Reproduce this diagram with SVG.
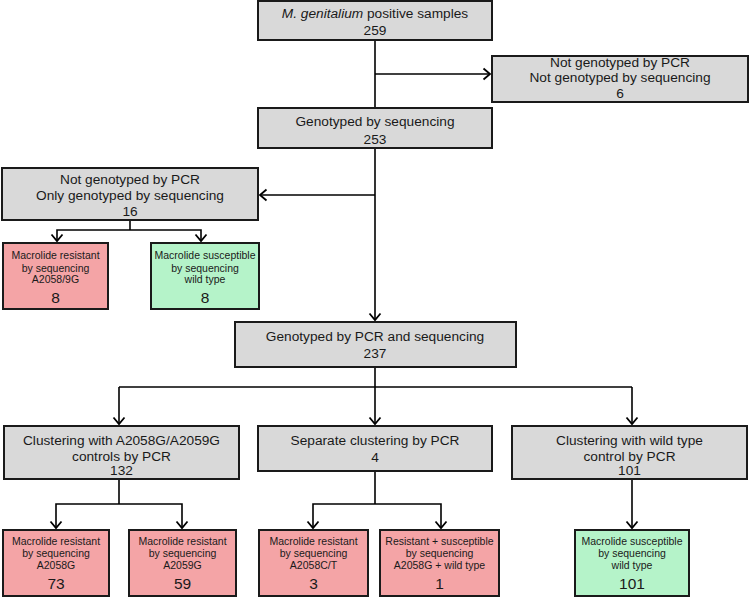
<svg xmlns="http://www.w3.org/2000/svg" width="750" height="597" viewBox="0 0 750 597">
<defs>
<marker id="arr" markerUnits="userSpaceOnUse" markerWidth="12" markerHeight="14" viewBox="-8 -7 10 14" refX="0" refY="0" orient="auto">
<path d="M-6.5,-5.5 L0,0 L-6.5,5.5" fill="none" stroke="#000" stroke-width="1.8"/>
</marker>
</defs>
<style>
.box{stroke:#1a1a1a;stroke-width:2}
.gray{fill:#d9d9d9}
.red{fill:#f4a4a6}
.green{fill:#b5f3c9}
.t{font-family:"Liberation Sans",Arial,sans-serif;font-size:13.7px;fill:#1a1a1a;text-anchor:middle}
.s{font-family:"Liberation Sans",Arial,sans-serif;font-size:10.5px;fill:#1a1a1a;text-anchor:middle}
.n{font-family:"Liberation Sans",Arial,sans-serif;font-size:15.5px;fill:#1a1a1a;text-anchor:middle}
.c{fill:none;stroke:#000;stroke-width:1.6}
</style>
<rect width="750" height="597" fill="#fff"/>
<g id="connectors">
<path class="c" d="M375,40 V108"/>
<path class="c" d="M375,74 H490" marker-end="url(#arr)"/>
<path class="c" d="M375,148 V320" marker-end="url(#arr)"/>
<path class="c" d="M375,195 H260" marker-end="url(#arr)"/>
<path class="c" d="M130,220 V230"/>
<path class="c" d="M130,230 H57 V241" marker-end="url(#arr)"/>
<path class="c" d="M130,230 H201 V241" marker-end="url(#arr)"/>
<path class="c" d="M375,367 V424" marker-end="url(#arr)"/>
<path class="c" d="M119,387 H632"/>
<path class="c" d="M119,387 V424" marker-end="url(#arr)"/>
<path class="c" d="M632,387 V424" marker-end="url(#arr)"/>
<path class="c" d="M119,479 V504"/>
<path class="c" d="M119,504 H56 V528" marker-end="url(#arr)"/>
<path class="c" d="M119,504 H182 V528" marker-end="url(#arr)"/>
<path class="c" d="M375,471 V504"/>
<path class="c" d="M375,504 H313 V528" marker-end="url(#arr)"/>
<path class="c" d="M375,504 H441 V528" marker-end="url(#arr)"/>
<path class="c" d="M632,479 V528" marker-end="url(#arr)"/>
</g>
<g id="n-positive">
<rect class="box gray" x="258" y="1" width="234" height="39"/>
<text class="t" x="375" y="18"><tspan font-style="italic">M. genitalium</tspan> positive samples</text>
<text class="t" x="375" y="35">259</text>
</g>
<g id="n-notgenotyped">
<rect class="box gray" x="492" y="56" width="256" height="46"/>
<text class="t" x="620" y="67">Not genotyped by PCR</text>
<text class="t" x="620" y="82">Not genotyped by sequencing</text>
<text class="t" x="620" y="98">6</text>
</g>
<g id="n-seq">
<rect class="box gray" x="258" y="108" width="234" height="40"/>
<text class="t" x="375" y="126">Genotyped by sequencing</text>
<text class="t" x="375" y="144">253</text>
</g>
<g id="n-onlyseq">
<rect class="box gray" x="2" y="168" width="256" height="52"/>
<text class="t" x="130" y="184">Not genotyped by PCR</text>
<text class="t" x="130" y="200">Only genotyped by sequencing</text>
<text class="t" x="130" y="216">16</text>
</g>
<g id="n-res8">
<rect class="box red" x="3" y="243" width="105" height="66"/>
<text class="s" x="55.5" y="258.5">Macrolide resistant</text>
<text class="s" x="55.5" y="271.5">by sequencing</text>
<text class="s" x="55.5" y="283">A2058/9G</text>
<text class="n" x="55.5" y="302.5">8</text>
</g>
<g id="n-sus8">
<rect class="box green" x="151" y="243" width="108" height="66"/>
<text class="s" x="205" y="258.5">Macrolide susceptible</text>
<text class="s" x="205" y="271.5">by sequencing</text>
<text class="s" x="205" y="283">wild type</text>
<text class="n" x="205" y="302.5">8</text>
</g>
<g id="n-pcrseq">
<rect class="box gray" x="235" y="322" width="281" height="45"/>
<text class="t" x="375" y="341">Genotyped by PCR and sequencing</text>
<text class="t" x="375" y="358">237</text>
</g>
<g id="n-cluster-res">
<rect class="box gray" x="4" y="426" width="235" height="53"/>
<text class="t" x="121.5" y="445">Clustering with A2058G/A2059G</text>
<text class="t" x="121.5" y="461">controls by PCR</text>
<text class="t" x="121.5" y="475">132</text>
</g>
<g id="n-separate">
<rect class="box gray" x="258" y="426" width="234" height="45"/>
<text class="t" x="375" y="445">Separate clustering by PCR</text>
<text class="t" x="375" y="462">4</text>
</g>
<g id="n-cluster-wt">
<rect class="box gray" x="512" y="426" width="235" height="53"/>
<text class="t" x="629.5" y="445">Clustering with wild type</text>
<text class="t" x="629.5" y="461">control by PCR</text>
<text class="t" x="629.5" y="475">101</text>
</g>
<g id="n-a2058g">
<rect class="box red" x="3" y="530" width="106" height="66"/>
<text class="s" x="56" y="545">Macrolide resistant</text>
<text class="s" x="56" y="557">by sequencing</text>
<text class="s" x="56" y="569">A2058G</text>
<text class="n" x="56" y="589">73</text>
</g>
<g id="n-a2059g">
<rect class="box red" x="129" y="530" width="107" height="66"/>
<text class="s" x="182.5" y="545">Macrolide resistant</text>
<text class="s" x="182.5" y="557">by sequencing</text>
<text class="s" x="182.5" y="569">A2059G</text>
<text class="n" x="182.5" y="589">59</text>
</g>
<g id="n-a2058ct">
<rect class="box red" x="259" y="530" width="109" height="66"/>
<text class="s" x="313.5" y="545">Macrolide resistant</text>
<text class="s" x="313.5" y="557">by sequencing</text>
<text class="s" x="313.5" y="569">A2058C/T</text>
<text class="n" x="313.5" y="589">3</text>
</g>
<g id="n-mixed">
<rect class="box red" x="380" y="530" width="119" height="66"/>
<text class="s" x="439.5" y="545">Resistant + susceptible</text>
<text class="s" x="439.5" y="557">by sequencing</text>
<text class="s" x="439.5" y="569">A2058G + wild type</text>
<text class="n" x="439.5" y="589">1</text>
</g>
<g id="n-wt101">
<rect class="box green" x="575" y="530" width="114" height="66"/>
<text class="s" x="632" y="545">Macrolide susceptible</text>
<text class="s" x="632" y="557">by sequencing</text>
<text class="s" x="632" y="569">wild type</text>
<text class="n" x="632" y="589">101</text>
</g>
</svg>
